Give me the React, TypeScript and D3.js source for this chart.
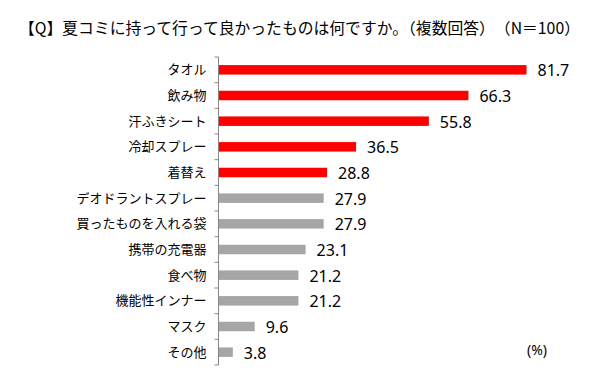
import React from "react";
import * as d3 from "d3";

const categories = [
  "タオル",
  "飲み物",
  "汗ふきシート",
  "冷却スプレー",
  "着替え",
  "デオドラントスプレー",
  "買ったものを入れる袋",
  "携帯の充電器",
  "食べ物",
  "機能性インナー",
  "マスク",
  "その他",
];
const values = [81.7, 66.3, 55.8, 36.5, 28.8, 27.9, 27.9, 23.1, 21.2, 21.2, 9.6, 3.8];
const highlighted = [true, true, true, true, true, false, false, false, false, false, false, false];

const title = "【Q】夏コミに持って行って良かったものは何ですか。（複数回答）　（N＝100）";
const unitLabel = "(%)";

const W = 609;
const H = 377;
const axisX = 218.5;
const top = 57;
const bottom = 365;

export default function App() {
  const x = d3.scaleLinear().domain([0, 100]).range([axisX, axisX + 377]);
  const y = d3.scaleBand<string>().domain(categories).range([top, bottom]).paddingInner(0.63).paddingOuter(0.315);
  const band = d3.scaleBand<string>().domain(categories).range([top, bottom]);
  const ticks = [...categories.map((c) => band(c) as number), bottom];
  const jp = "'Noto Sans CJK JP', 'Noto Sans', sans-serif";
  return (
    <svg width={W} height={H} style={{ position: "absolute", left: 0, top: 0, background: "#fff" }}>
      <text x={19} y={34} fontFamily={jp} fontSize={15.8} fill="#000">
        {title}
      </text>
      {categories.map((c, i) => (
        <g key={c}>
          <rect
            x={x(0)}
            y={y(c)}
            width={x(values[i]) - x(0)}
            height={y.bandwidth()}
            fill={highlighted[i] ? "#FF0000" : "#A6A6A6"}
          />
          <text
            x={axisX - 12}
            y={(band(c) as number) + band.bandwidth() / 2}
            dy="0.35em"
            textAnchor="end"
            fontFamily={jp}
            fontSize={13}
            fill="#000"
          >
            {c}
          </text>
          <text
            x={x(values[i]) + 11}
            y={(band(c) as number) + band.bandwidth() / 2 + 1}
            dy="0.35em"
            fontFamily="'Noto Sans', sans-serif"
            fontSize={16}
            fill="#000"
          >
            {values[i].toFixed(1)}
          </text>
        </g>
      ))}
      <line x1={axisX} x2={axisX} y1={top} y2={bottom} stroke="#868686" strokeWidth={1} />
      {ticks.map((t, i) => (
        <line key={i} x1={axisX - 4} x2={axisX} y1={t} y2={t} stroke="#868686" strokeWidth={1} />
      ))}
      <text x={527} y={350} dy="0.35em" fontFamily="'Noto Sans', sans-serif" fontSize={14} fill="#000">
        {unitLabel}
      </text>
    </svg>
  );
}
